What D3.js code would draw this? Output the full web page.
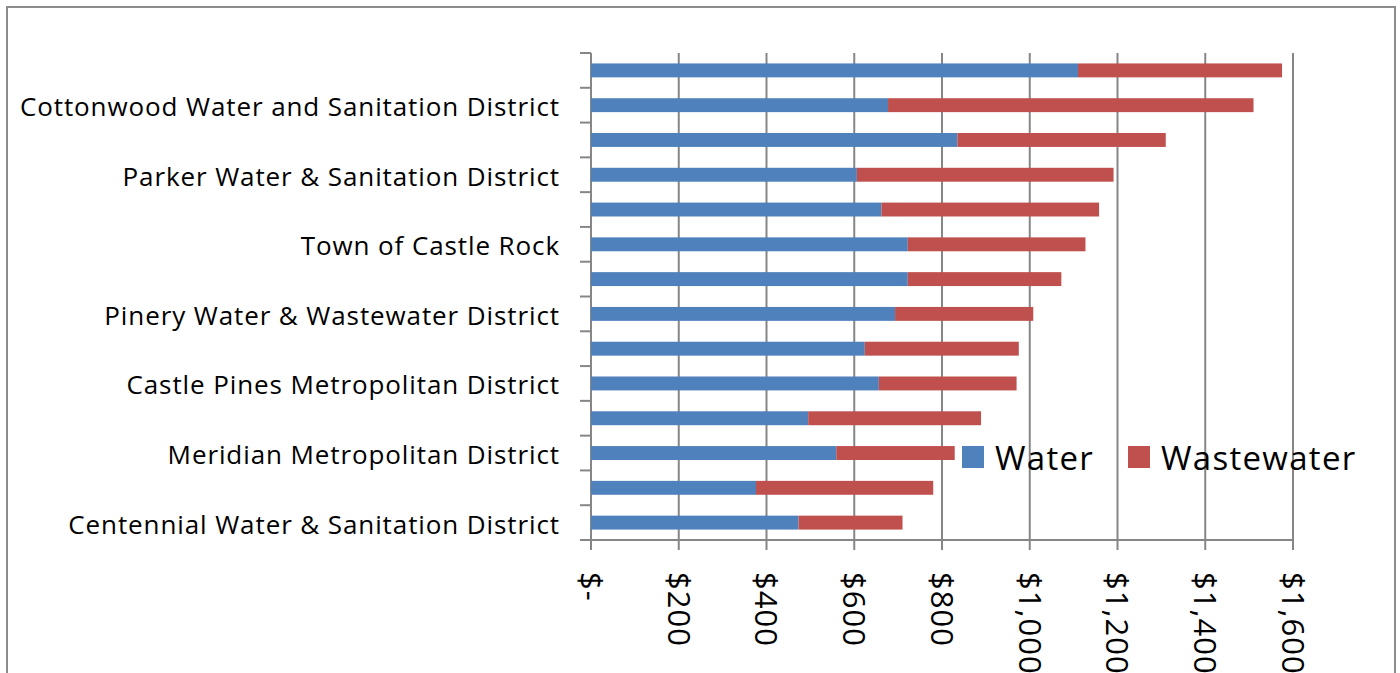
<!DOCTYPE html>
<html>
<head>
<meta charset="utf-8">
<script src="https://cdn.jsdelivr.net/npm/d3@7"></script>
<style>
body { margin: 0; background: #fff; }
svg { display: block; }
text { font-family: "Open Sans", sans-serif; fill: #000; }
</style>
</head>
<body>
<div class="graphbox"></div>
<script>
// top to bottom; Excel only labelled every other district
var districts = ["", "Cottonwood Water and Sanitation District", "", "Parker Water & Sanitation District", "", "Town of Castle Rock", "", "Pinery Water & Wastewater District", "", "Castle Pines Metropolitan District", "", "Meridian Metropolitan District", "", "Centennial Water & Sanitation District"]
var water = [1110, 677, 835, 606, 662, 722, 722, 693, 624, 656, 495, 559, 376, 473]
var wastewater = [465, 833, 475, 585, 496, 405, 350, 315, 351, 314, 394, 270, 404, 237]
var xTicks = [0, 200, 400, 600, 800, 1000, 1200, 1400, 1600]
var series = ["Water", "Wastewater"]
var pal = ["#4F81BD", "#C0504D"]

var svgWidth = 1400;
var svgHeight = 673;
var gridCol = "#868686";

var rows = districts.map(function(d, i) { return {i: i, Water: water[i], Wastewater: wastewater[i]}; });

var mysvg = d3.select(".graphbox")
  .append("svg")
  .attr("width", svgWidth)
  .attr("height", svgHeight);

// chart border
mysvg.append("rect")
  .attr("x", 7).attr("y", 7)
  .attr("width", 1388).attr("height", 700)
  .attr("fill", "none")
  .attr("stroke", "#8c8c8c")
  .attr("stroke-width", 2);

var x = d3.scaleLinear().domain([0, 1600]).range([591, 1293]);
var y = d3.scaleBand().domain(d3.range(districts.length)).range([53, 540]).paddingInner(0.6).paddingOuter(0.3);

// vertical gridlines
mysvg.selectAll(".grid")
  .data(xTicks)
  .enter()
  .append("line")
  .attr("class", "grid")
  .attr("x1", function(d) { return x(d); })
  .attr("x2", function(d) { return x(d); })
  .attr("y1", 53)
  .attr("y2", 550)
  .attr("stroke", gridCol)
  .attr("stroke-width", 2);

// left axis (ticks at band edges)
var step = y.step();
mysvg.append("line")
  .attr("x1", 591).attr("x2", 591).attr("y1", 53).attr("y2", 540)
  .attr("stroke", gridCol).attr("stroke-width", 2);
mysvg.selectAll(".ytick")
  .data(d3.range(districts.length + 1))
  .enter()
  .append("line")
  .attr("class", "ytick")
  .attr("x1", 580).attr("x2", 591)
  .attr("y1", function(d) { return 53 + d * step; })
  .attr("y2", function(d) { return 53 + d * step; })
  .attr("stroke", gridCol).attr("stroke-width", 2);

// bottom axis
mysvg.append("line")
  .attr("x1", 580).attr("x2", 1293).attr("y1", 540).attr("y2", 540)
  .attr("stroke", gridCol).attr("stroke-width", 2);

var stacked = d3.stack().keys(series)(rows);

mysvg.selectAll(".layer")
  .data(stacked)
  .enter()
  .append("g")
  .attr("class", "layer")
  .attr("fill", function(d, i) { return pal[i]; })
  .selectAll("rect")
  .data(function(d) { return d; })
  .enter()
  .append("rect")
  .attr("x", function(d) { return x(d[0]); })
  .attr("y", function(d) { return y(d.data.i); })
  .attr("width", function(d) { return x(d[1]) - x(d[0]); })
  .attr("height", y.bandwidth());

// category labels
mysvg.selectAll(".catlab")
  .data(districts)
  .enter()
  .append("text")
  .attr("class", "catlab")
  .attr("x", 560)
  .attr("y", function(d, i) { return y(i) + y.bandwidth() / 2; })
  .attr("dy", "0.42em")
  .attr("text-anchor", "end")
  .style("font-size", "26px")
  .style("letter-spacing", "0.9px")
  .text(function(d) { return d; });

// x tick labels, rotated
var fmt = function(d) { return d === 0 ? "$-" : d3.format("$,")(d); };
mysvg.selectAll(".xlab")
  .data(xTicks)
  .enter()
  .append("text")
  .attr("class", "xlab")
  .attr("transform", function(d) { return "translate(" + x(d) + ",572) rotate(90)"; })
  .attr("dy", "0.36em")
  .style("font-size", "31px")
  .style("letter-spacing", "1px")
  .text(fmt);

// legend
var leg = mysvg.selectAll(".leg")
  .data(series)
  .enter()
  .append("g")
  .attr("class", "leg")
  .attr("transform", function(d, i) { return "translate(" + [962, 1128][i] + ",446)"; });
leg.append("rect")
  .attr("width", 22).attr("height", 22)
  .attr("fill", function(d, i) { return pal[i]; });
leg.append("text")
  .attr("x", 33)
  .attr("y", 24)
  .style("font-size", "33px")
  .style("letter-spacing", "1.3px")
  .text(function(d) { return d; });
</script>
</body>
</html>
